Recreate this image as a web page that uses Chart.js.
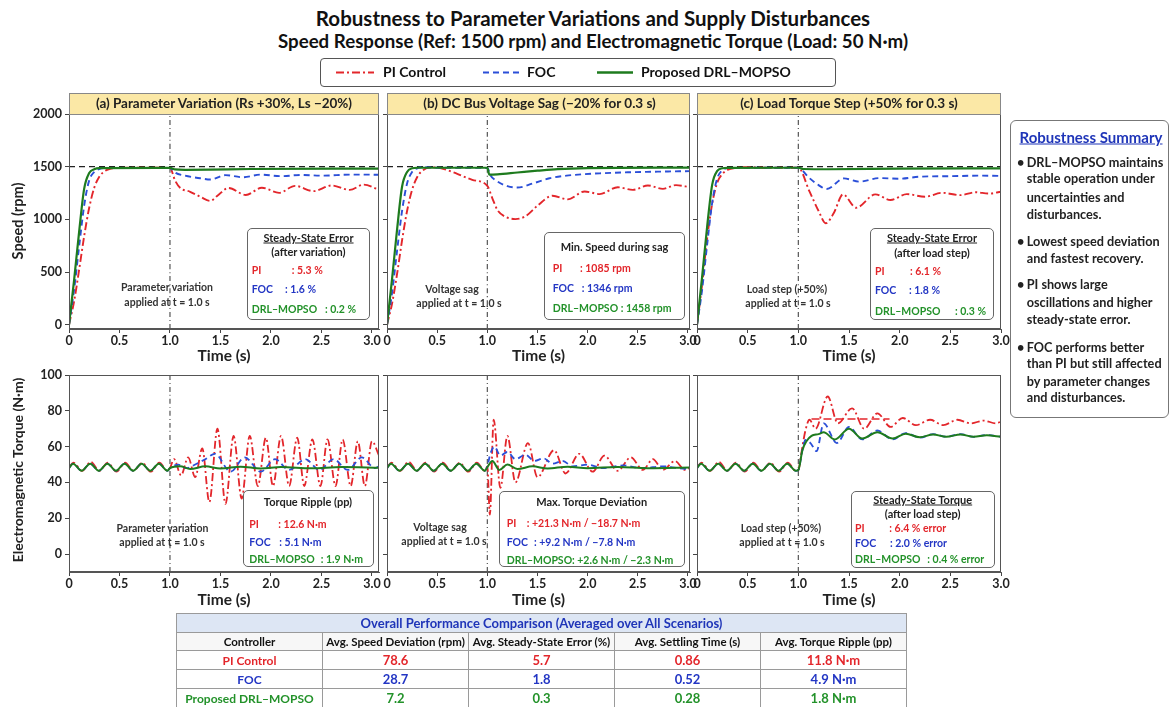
<!DOCTYPE html>
<html><head><meta charset="utf-8">
<script src="https://cdn.jsdelivr.net/npm/chart.js@4.4.1/dist/chart.umd.min.js"></script>
<style>
body{margin:0;background:#fff;}
#root{position:relative;width:1171px;height:707px;overflow:hidden;background:#fff;font-family:'Lato',sans-serif;font-weight:bold;color:#222;}
canvas{position:absolute;}
.t{position:absolute;white-space:nowrap;line-height:1;}
.box{position:absolute;box-sizing:border-box;}
table{border-collapse:collapse;font-family:'Lato',sans-serif;font-weight:bold;}
</style></head><body><div id="root"></div>
<script>
// ---------------- DATA ----------------
const timeTicks = [0, 0.5, 1.0, 1.5, 2.0, 2.5, 3.0];
const speedTicks = [0, 500, 1000, 1500, 2000];
const torqueTicks = [0, 20, 40, 60, 80, 100];
const eventTime = 1.0;
const speedRef = 1500;
const seriesNames = ['PI Control', 'FOC', 'Proposed DRL–MOPSO'];

// Speed (rpm) — panel (a) parameter variation
const piSpeedA = [[0,0],[0.05,220],[0.1,520],[0.15,840],[0.2,1110],[0.25,1300],[0.3,1405],[0.35,1455],[0.4,1478],[0.5,1488],[0.7,1490],[1.0,1488],[1.05,1370],[1.1,1300],[1.2,1262],[1.3,1215],[1.4,1175],[1.47,1225],[1.58,1298],[1.75,1232],[1.91,1300],[2.08,1252],[2.24,1318],[2.42,1268],[2.6,1322],[2.78,1280],[2.92,1330],[3.07,1282]];
const focSpeedA = [[0,0],[0.05,330],[0.1,740],[0.15,1130],[0.2,1370],[0.25,1450],[0.3,1478],[0.4,1488],[1.0,1488],[1.05,1445],[1.15,1415],[1.3,1390],[1.4,1378],[1.55,1420],[1.72,1400],[1.9,1425],[2.1,1410],[2.3,1422],[2.5,1415],[2.8,1425],[3.07,1424]];
const drlSpeedA = [[0,0],[0.05,420],[0.1,880],[0.15,1290],[0.2,1440],[0.25,1476],[0.3,1486],[1.0,1488],[1.05,1474],[1.15,1470],[1.4,1472],[1.8,1478],[3.07,1482]];
// Speed — panel (b) DC bus voltage sag
const piSpeedB = [[0,0],[0.05,200],[0.1,480],[0.15,800],[0.2,1080],[0.25,1280],[0.3,1400],[0.35,1460],[0.45,1494],[0.55,1482],[0.7,1432],[0.85,1375],[1.0,1318],[1.05,1200],[1.1,1090],[1.18,1025],[1.28,1003],[1.38,1030],[1.5,1130],[1.65,1225],[1.8,1190],[1.97,1265],[2.12,1240],[2.3,1305],[2.45,1280],[2.6,1322],[2.75,1290],[2.88,1325],[3.02,1305]];
const focSpeedB = [[0,0],[0.05,300],[0.1,700],[0.15,1080],[0.2,1340],[0.25,1450],[0.3,1485],[0.35,1495],[0.5,1490],[1.0,1488],[1.03,1420],[1.1,1360],[1.2,1315],[1.3,1302],[1.45,1340],[1.62,1390],[1.79,1415],[1.95,1428],[2.12,1437],[2.4,1447],[2.7,1453],[3.02,1458]];
const drlSpeedB = [[0,0],[0.05,430],[0.1,900],[0.15,1310],[0.2,1450],[0.25,1485],[0.3,1490],[1.0,1490],[1.02,1425],[1.1,1428],[1.3,1445],[1.5,1462],[1.7,1477],[2.0,1487],[3.02,1492]];
// Speed — panel (c) load torque step
const piSpeedC = [[0,0],[0.05,380],[0.1,820],[0.15,1150],[0.2,1350],[0.25,1430],[0.3,1470],[0.4,1490],[0.5,1496],[0.7,1490],[1.0,1490],[1.11,1265],[1.2,1080],[1.27,963],[1.35,1060],[1.44,1237],[1.57,1111],[1.76,1237],[1.91,1184],[2.07,1240],[2.25,1215],[2.42,1252],[2.6,1230],[2.75,1258],[2.88,1245],[3.0,1262]];
const focSpeedC = [[0,0],[0.05,330],[0.1,760],[0.15,1160],[0.2,1390],[0.25,1465],[0.3,1488],[1.0,1490],[1.1,1400],[1.2,1325],[1.28,1288],[1.45,1389],[1.6,1358],[1.8,1392],[2.0,1386],[2.2,1405],[2.5,1410],[2.8,1415],[3.0,1413]];
const drlSpeedC = [[0,0],[0.05,450],[0.1,930],[0.15,1330],[0.2,1460],[0.25,1485],[0.3,1489],[1.0,1490],[1.05,1478],[1.3,1476],[2.0,1482],[3.0,1485]];

// Torque (N·m) — ripple before the event
const torquePre = [[0,48],[0.04,50.5],[0.125,46.5],[0.21,50.5],[0.295,46.5],[0.38,50.5],[0.465,46.5],[0.55,50.5],[0.635,46.5],[0.72,50.5],[0.805,46.5],[0.89,50.5],[0.975,46.5]];
const piTorquePre = [[0,48.5],[0.045,51],[0.13,46.5],[0.215,51.5],[0.3,46.5],[0.385,51],[0.47,46],[0.555,51],[0.64,46.5],[0.725,51],[0.81,46],[0.895,51],[0.975,46.5]];
// Torque — panel (a)
const piTorqueA = [[1.0,48],[1.04,53],[1.11,44],[1.18,54],[1.25,43],[1.32,59],[1.39,29],[1.47,70],[1.55,28],[1.63,66],[1.71,31],[1.79,66],[1.87,38],[1.95,65],[2.02,38],[2.1,66],[2.18,38],[2.26,65],[2.33,38],[2.41,64],[2.49,38],[2.56,64],[2.64,38],[2.71,64],[2.79,38],[2.86,63],[2.93,38],[3.0,63],[3.07,55]];
const focTorqueA = [[1.0,48],[1.08,50],[1.16,48],[1.25,50],[1.35,53],[1.445,56],[1.6,46],[1.74,54],[1.9,46],[2.04,53],[2.18,47],[2.34,53],[2.48,47],[2.62,53],[2.76,47],[2.9,54],[3.03,48],[3.07,49]];
const drlTorqueA = [[1.0,48],[1.1,49],[1.2,47.5],[1.35,49],[1.5,47.8],[1.7,48.8],[1.9,47.8],[2.1,48.6],[2.4,47.9],[2.7,48.6],[3.07,48.2]];
// Torque — panel (b)
const piTorqueB = [[1.0,49],[1.025,22],[1.063,75],[1.13,37],[1.2,66],[1.28,40],[1.405,62],[1.5,43],[1.665,58],[1.78,45],[1.916,56],[2.05,46],[2.167,55],[2.3,46.5],[2.43,54],[2.55,47],[2.65,53],[2.75,47],[2.87,52],[2.97,47],[3.02,48]];
const focTorqueB = [[1.0,49],[1.03,56],[1.07,60],[1.13,55],[1.2,57],[1.28,53],[1.38,55.5],[1.47,52],[1.56,53.5],[1.65,50.5],[1.75,52],[1.85,49],[2.0,50],[2.15,48],[2.35,49.5],[2.55,48],[2.75,49],[2.9,48],[3.02,47.5]];
const drlTorqueB = [[1.0,48.5],[1.05,52],[1.12,47],[1.2,50],[1.3,47.5],[1.45,49],[1.6,47.8],[1.8,48.8],[2.0,48],[2.3,48.6],[2.6,48],[3.02,48.4]];
// Torque — panel (c)
const piTorqueC = [[1.0,47],[1.04,60],[1.07,69],[1.11,75],[1.17,70],[1.29,88],[1.39,73],[1.53,81.4],[1.65,70],[1.78,78.6],[1.91,71],[2.03,76],[2.16,72],[2.3,75],[2.43,72],[2.57,75],[2.7,73],[2.83,74.5],[2.95,73],[3.0,74]];
const piLevelC = [[1.13,75.4],[1.9,75.4]];
const focTorqueC = [[1.0,47],[1.04,58],[1.07,63.7],[1.12,62],[1.18,57.5],[1.25,73],[1.38,62],[1.5,71],[1.63,64],[1.78,69],[1.93,64],[2.06,67.6],[2.2,65],[2.33,67],[2.46,65.5],[2.6,67],[2.73,65.5],[2.86,66.5],[3.0,65.5]];
const drlTorqueC = [[1.0,47],[1.04,58],[1.08,63],[1.13,66],[1.2,67],[1.25,68],[1.36,64],[1.5,70],[1.63,64.5],[1.78,68],[1.93,64.5],[2.06,67.2],[2.2,65.2],[2.33,66.8],[2.46,65.5],[2.6,66.8],[2.73,65.5],[2.86,66.3],[3.0,65.5]];

// Table
const tableCols = ['Controller','Avg. Speed Deviation (rpm)','Avg. Steady-State Error (%)','Avg. Settling Time (s)','Avg. Torque Ripple (pp)'];
const tableRows = [
  ['PI Control','78.6','5.7','0.86','11.8 N·m'],
  ['FOC','28.7','1.8','0.52','4.9 N·m'],
  ['Proposed DRL–MOPSO','7.2','0.3','0.28','1.8 N·m']
];

// ---------------- STYLE ----------------
const C = {pi:'#e3262b', foc:'#2b4fd8', drl:'#1e7b1e', piT:'#e3262b', focT:'#2336c4', drlT:'#23922a'};
const root = document.getElementById('root');

function T(x, y, s, o = {}) {
  const d = document.createElement('div');
  d.className = 't';
  d.textContent = s;
  d.style.left = x + 'px';
  d.style.top = y + 'px';
  let size = o.size || 11;
  d.style.fontSize = size + 'px';
  d.style.color = o.color || '#222';
  if (o.font) d.style.fontFamily = o.font;
  if (o.underline) d.style.textDecoration = 'underline';
  if (o.rot) d.style.transform = 'translate(-50%,-50%) rotate(-90deg)';
  else d.style.transform = o.align === 'left' ? 'translate(0,-50%)' : 'translate(-50%,-50%)';
  root.appendChild(d);
  if (o.w) {
    const nat = d.offsetWidth;
    if (nat > 0) d.style.fontSize = (size * o.w / nat).toFixed(2) + 'px';
  }
  return d;
}
function B(x1, y1, x2, y2, css) {
  const d = document.createElement('div');
  d.className = 'box';
  d.style.left = x1 + 'px'; d.style.top = y1 + 'px';
  d.style.width = (x2 - x1) + 'px'; d.style.height = (y2 - y1) + 'px';
  Object.assign(d.style, css);
  root.appendChild(d);
  return d;
}

const framePlugin = {
  id: 'frame',
  afterDatasetsDraw(ch) {
    const a = ch.chartArea, x = ch.ctx;
    x.save(); x.strokeStyle = '#555'; x.lineWidth = 1;
    x.strokeRect(Math.round(a.left) + 0.5, Math.round(a.top) + 0.5, Math.round(a.right - a.left) - 1, Math.round(a.bottom - a.top) - 1);
    x.restore();
  }
};

const pts = arr => arr.map(p => ({x: p[0], y: p[1]}));
function line(arr, color, dash, width) {
  return {data: pts(arr), borderColor: color, borderWidth: width || 1.8, borderDash: dash || [],
    cubicInterpolationMode: 'monotone', tension: 0.4, pointRadius: 0, fill: false};
}

function panel(o) {
  const c = document.createElement('canvas');
  c.width = o.w; c.height = o.h;
  c.style.left = o.left + 'px'; c.style.top = o.top + 'px';
  c.style.width = o.w + 'px'; c.style.height = o.h + 'px';
  root.appendChild(c);
  const tickFont = {family: 'Lato', weight: 'bold', size: 12.5};
  new Chart(c, {
    type: 'line',
    data: {datasets: o.datasets},
    options: {
      responsive: false, animation: false, devicePixelRatio: 1,
      layout: {padding: {top: 14, right: 14, left: 0, bottom: 0}},
      plugins: {legend: {display: false}, tooltip: {enabled: false}},
      scales: {
        x: {type: 'linear', min: 0, max: o.xmax,
          afterBuildTicks: s => { s.ticks = timeTicks.map(v => ({value: v})); },
          afterFit: s => { s.height = 25; },
          ticks: {font: tickFont, color: '#222', padding: 0, maxRotation: 0, autoSkip: false,
            callback: v => v === 0 ? '0' : Number(v).toFixed(1)},
          grid: {drawOnChartArea: false, drawTicks: true, tickLength: 4, color: '#444'},
          border: {display: true, color: '#555'}},
        y: {type: 'linear', min: o.ymin, max: o.ymax,
          afterBuildTicks: s => { s.ticks = o.yticks.map(v => ({value: v})); },
          afterFit: s => { s.width = o.yw; },
          ticks: {display: o.showY, font: tickFont, color: '#222', padding: 3, callback: v => String(v)},
          grid: {drawOnChartArea: false, drawTicks: true, tickLength: 4, color: '#444'},
          border: {display: true, color: '#555'}}
      }
    },
    plugins: [framePlugin]
  });
}

const piDash = [8, 3, 2, 3], focDash = [6, 4];
function speedSets(pi, foc, drl, xmax) {
  return [
    line(drl, C.drl, [], 2.2),
    line(foc, C.foc, focDash, 1.9),
    line(pi, C.pi, piDash, 1.9),
    line([[0, speedRef], [xmax, speedRef]], '#222', [6, 4], 1.3),
    line([[eventTime, -40], [eventTime, 2000]], '#555', [5, 3, 1, 3], 1.2)
  ];
}
function torqueSets(pi, foc, drl, xmax, extra) {
  const s = [
    line(torquePre.concat(drl), C.drl, [], 2.0),
    line(torquePre.concat(foc), C.foc, focDash, 1.8),
    line(piTorquePre.concat(pi), C.pi, piDash, 1.8)
  ];
  if (extra) s.push(line(extra, C.pi, [8, 4], 1.6));
  s.push(line([[eventTime, -10], [eventTime, 100]], '#555', [5, 3, 1, 3], 1.2));
  return s;
}

// Top row (speed)
panel({left: 0, top: 100, w: 393, h: 254, yw: 69, showY: true, xmax: 3.07, ymin: -40, ymax: 2000, yticks: speedTicks,
  datasets: speedSets(piSpeedA, focSpeedA, drlSpeedA, 3.07)});
panel({left: 377, top: 100, w: 327, h: 254, yw: 10, showY: false, xmax: 3.02, ymin: -40, ymax: 2000, yticks: speedTicks,
  datasets: speedSets(piSpeedB, focSpeedB, drlSpeedB, 3.02)});
panel({left: 687, top: 100, w: 328, h: 254, yw: 10, showY: false, xmax: 3.0, ymin: -40, ymax: 2000, yticks: speedTicks,
  datasets: speedSets(piSpeedC, focSpeedC, drlSpeedC, 3.0)});
// Bottom row (torque)
panel({left: 0, top: 361, w: 393, h: 236, yw: 69, showY: true, xmax: 3.07, ymin: -10, ymax: 100, yticks: torqueTicks,
  datasets: torqueSets(piTorqueA, focTorqueA, drlTorqueA, 3.07)});
panel({left: 377, top: 361, w: 327, h: 236, yw: 10, showY: false, xmax: 3.02, ymin: -10, ymax: 100, yticks: torqueTicks,
  datasets: torqueSets(piTorqueB, focTorqueB, drlTorqueB, 3.02)});
panel({left: 687, top: 361, w: 328, h: 236, yw: 10, showY: false, xmax: 3.0, ymin: -10, ymax: 100, yticks: torqueTicks,
  datasets: torqueSets(piTorqueC, focTorqueC, drlTorqueC, 3.0, piLevelC)});

// ---------------- TEXT / DECOR ----------------
T(593, 18, 'Robustness to Parameter Variations and Supply Disturbances', {size: 21, color: '#111', w: 554});
T(593, 41, 'Speed Response (Ref: 1500 rpm) and Electromagnetic Torque (Load: 50 N·m)', {size: 18.5, color: '#111', w: 631});

// Legend
B(320, 58, 836, 87, {border: '1.3px solid #555', borderRadius: '4px', background: '#fff'});
const lg = document.createElementNS('http://www.w3.org/2000/svg', 'svg');
lg.setAttribute('width', '1171'); lg.setAttribute('height', '707');
lg.style.position = 'absolute'; lg.style.left = '0'; lg.style.top = '0'; lg.style.pointerEvents = 'none';
lg.innerHTML = '<line x1="336" y1="72.5" x2="374" y2="72.5" stroke="' + C.pi + '" stroke-width="2" stroke-dasharray="8 3 2 3"/>' +
  '<line x1="483" y1="72.5" x2="519" y2="72.5" stroke="' + C.foc + '" stroke-width="2" stroke-dasharray="6 4"/>' +
  '<line x1="597" y1="72.5" x2="633" y2="72.5" stroke="' + C.drl + '" stroke-width="2.4"/>';
root.appendChild(lg);
T(383, 72, seriesNames[0], {size: 14, align: 'left', color: '#111'});
T(527, 72, seriesNames[1], {size: 14, align: 'left', color: '#111'});
T(641, 72, seriesNames[2], {size: 14, align: 'left', color: '#111'});

// Panel titles
const titleCss = {background: '#fbe8a6', border: '1px solid #888'};
B(69, 93, 379, 115, titleCss); T(224, 104, '(a) Parameter Variation (Rs +30%, Ls −20%)', {size: 13, w: 256});
B(387, 93, 690, 115, titleCss); T(539.5, 104, '(b) DC Bus Voltage Sag (−20% for 0.3 s)', {size: 13, w: 233});
B(697, 93, 1001, 115, titleCss); T(849, 104, '(c) Load Torque Step (+50% for 0.3 s)', {size: 13, w: 218});

// Axis titles
T(18, 221, 'Speed (rpm)', {size: 14.5, rot: true});
T(18, 470, 'Electromagnetic Torque (N·m)', {size: 14, rot: true});
[224, 538.5, 849].forEach(x => { T(x, 356, 'Time (s)', {size: 15.5}); T(x, 600, 'Time (s)', {size: 15.5}); });

// Event labels
const ev = {size: 10.5, color: '#333'};
T(167, 287, 'Parameter variation', ev); T(167, 302, 'applied at t = 1.0 s', ev);
T(452, 289, 'Voltage sag', ev); T(459, 302.5, 'applied at t = 1.0 s', ev);
T(787, 289, 'Load step (+50%)', ev); T(788, 302.5, 'applied at t = 1.0 s', ev);
T(162.5, 528, 'Parameter variation', ev); T(162, 542, 'applied at t = 1.0 s', ev);
T(440, 527, 'Voltage sag', ev); T(444, 541, 'applied at t = 1.0 s', ev);
T(781, 528, 'Load step (+50%)', ev); T(782, 542, 'applied at t = 1.0 s', ev);

// Annotation boxes
const boxCss = {border: '1.3px solid #666', borderRadius: '5px', background: 'rgba(255,255,255,0.96)'};
const an = 10.5, anT = 11;
function stat(x, y, label, vx, val, col) {
  T(x, y, label, {size: an, align: 'left', color: col});
  T(vx, y, val, {size: an, align: 'left', color: col});
}
B(247, 228, 370, 320, boxCss);
T(308.5, 237, 'Steady-State Error', {size: anT, underline: true}); T(308.5, 251, '(after variation)', {size: anT});
stat(251.7, 270, 'PI', 291.7, ': 5.3 %', C.piT); stat(251.7, 289, 'FOC', 285, ': 1.6 %', C.focT); stat(251.7, 309, 'DRL–MOPSO', 325, ': 0.2 %', C.drlT);

B(544, 232, 685, 320, boxCss);
T(614.5, 246, 'Min. Speed during sag', {size: anT});
stat(552.7, 268, 'PI', 580, ': 1085 rpm', C.piT); stat(552.7, 288.3, 'FOC', 581.7, ': 1346 rpm', C.focT); stat(552.7, 308.3, 'DRL–MOPSO', 620.7, ': 1458 rpm', C.drlT);

B(870, 228, 994, 320, boxCss);
T(932, 237, 'Steady-State Error', {size: anT, underline: true}); T(932, 251.7, '(after load step)', {size: anT});
stat(875, 271, 'PI', 910, ': 6.1 %', C.piT); stat(875, 290.3, 'FOC', 909, ': 1.8 %', C.focT); stat(875, 310.7, 'DRL–MOPSO', 955, ': 0.3 %', C.drlT);

B(243, 490, 374, 567, boxCss);
T(308, 501, 'Torque Ripple (pp)', {size: anT});
stat(249.3, 524.3, 'PI', 278.3, ': 12.6 N·m', C.piT); stat(249.3, 541.7, 'FOC', 279.3, ': 5.1 N·m', C.focT); stat(249.3, 559, 'DRL–MOPSO', 320.7, ': 1.9 N·m', C.drlT);

B(499, 491, 685, 567, boxCss);
T(591.7, 500.7, 'Max. Torque Deviation', {size: anT});
stat(506.7, 523.3, 'PI', 526.7, ': +21.3 N·m / −18.7 N·m', C.piT); stat(506.7, 541.7, 'FOC', 534, ': +9.2 N·m / −7.8 N·m', C.focT); stat(506.7, 560, 'DRL–MOPSO', 572, ': +2.6 N·m / −2.3 N·m', C.drlT);

B(851, 491, 995, 568, boxCss);
T(922.7, 498.5, 'Steady-State Torque', {size: anT, underline: true}); T(922.7, 512.7, '(after load step)', {size: anT});
stat(855, 528.3, 'PI', 889.3, ': 6.4 % error', C.piT); stat(855, 543.3, 'FOC', 890, ': 2.0 % error', C.focT); stat(855, 559.3, 'DRL–MOPSO', 927.3, ': 0.4 % error', C.drlT);

// Summary box
B(1010, 120, 1169, 418, {border: '1.3px solid #777', borderRadius: '6px', background: '#fff'});
T(1091, 137, 'Robustness Summary', {size: 15, underline: true, color: '#1f35b8'});
const sumLines = [
  [161.7, '• DRL–MOPSO maintains', true], [178.3, 'stable operation under'], [196.5, 'uncertainties and'], [214.3, 'disturbances.'],
  [241, '• Lowest speed deviation', true], [257.7, 'and fastest recovery.'],
  [284.3, '• PI shows large', true], [301.7, 'oscillations and higher'], [319, 'steady-state error.'],
  [346.7, '• FOC performs better', true], [363.3, 'than PI but still affected'], [380.7, 'by parameter changes'], [397.3, 'and disturbances.']
];
sumLines.forEach(l => {
  if (l[2]) { T(1017, l[0], '•', {size: 12.7, align: 'left'}); T(1026.7, l[0], l[1].slice(2), {size: 12.7, align: 'left'}); }
  else T(1026.7, l[0], l[1], {size: 12.7, align: 'left'});
});

// Table
const colW = [144, 153, 159, 130, 145];
const tbl = document.createElement('table');
tbl.style.position = 'absolute'; tbl.style.left = '176px'; tbl.style.top = '613px';
tbl.style.width = colW.reduce((a, b) => a + b, 0) + 'px';
tbl.style.tableLayout = 'fixed';
const cellBase = 'border:1px solid #9a9a9a;text-align:center;padding:0;white-space:nowrap;overflow:hidden;';
let html = '<tr><td colspan="5" style="' + cellBase + 'height:18px;background:#dde6f4;color:#1f35b8;font-size:13px;">Overall Performance Comparison (Averaged over All Scenarios)</td></tr>';
html += '<tr>' + tableCols.map((c, i) => '<td style="' + cellBase + 'width:' + colW[i] + 'px;height:17px;background:#f7f7f7;color:#111;font-size:11.5px;">' + c + '</td>').join('') + '</tr>';
const rowCol = [C.piT, C.focT, C.drlT];
tableRows.forEach((r, k) => {
  html += '<tr>' + r.map((v, i) => '<td style="' + cellBase + 'height:18px;color:' + rowCol[k] + ';font-size:' + (i === 0 ? 12 : 13) + 'px;">' + v + '</td>').join('') + '</tr>';
});
tbl.innerHTML = html;
root.appendChild(tbl);
</script>
</body></html>
